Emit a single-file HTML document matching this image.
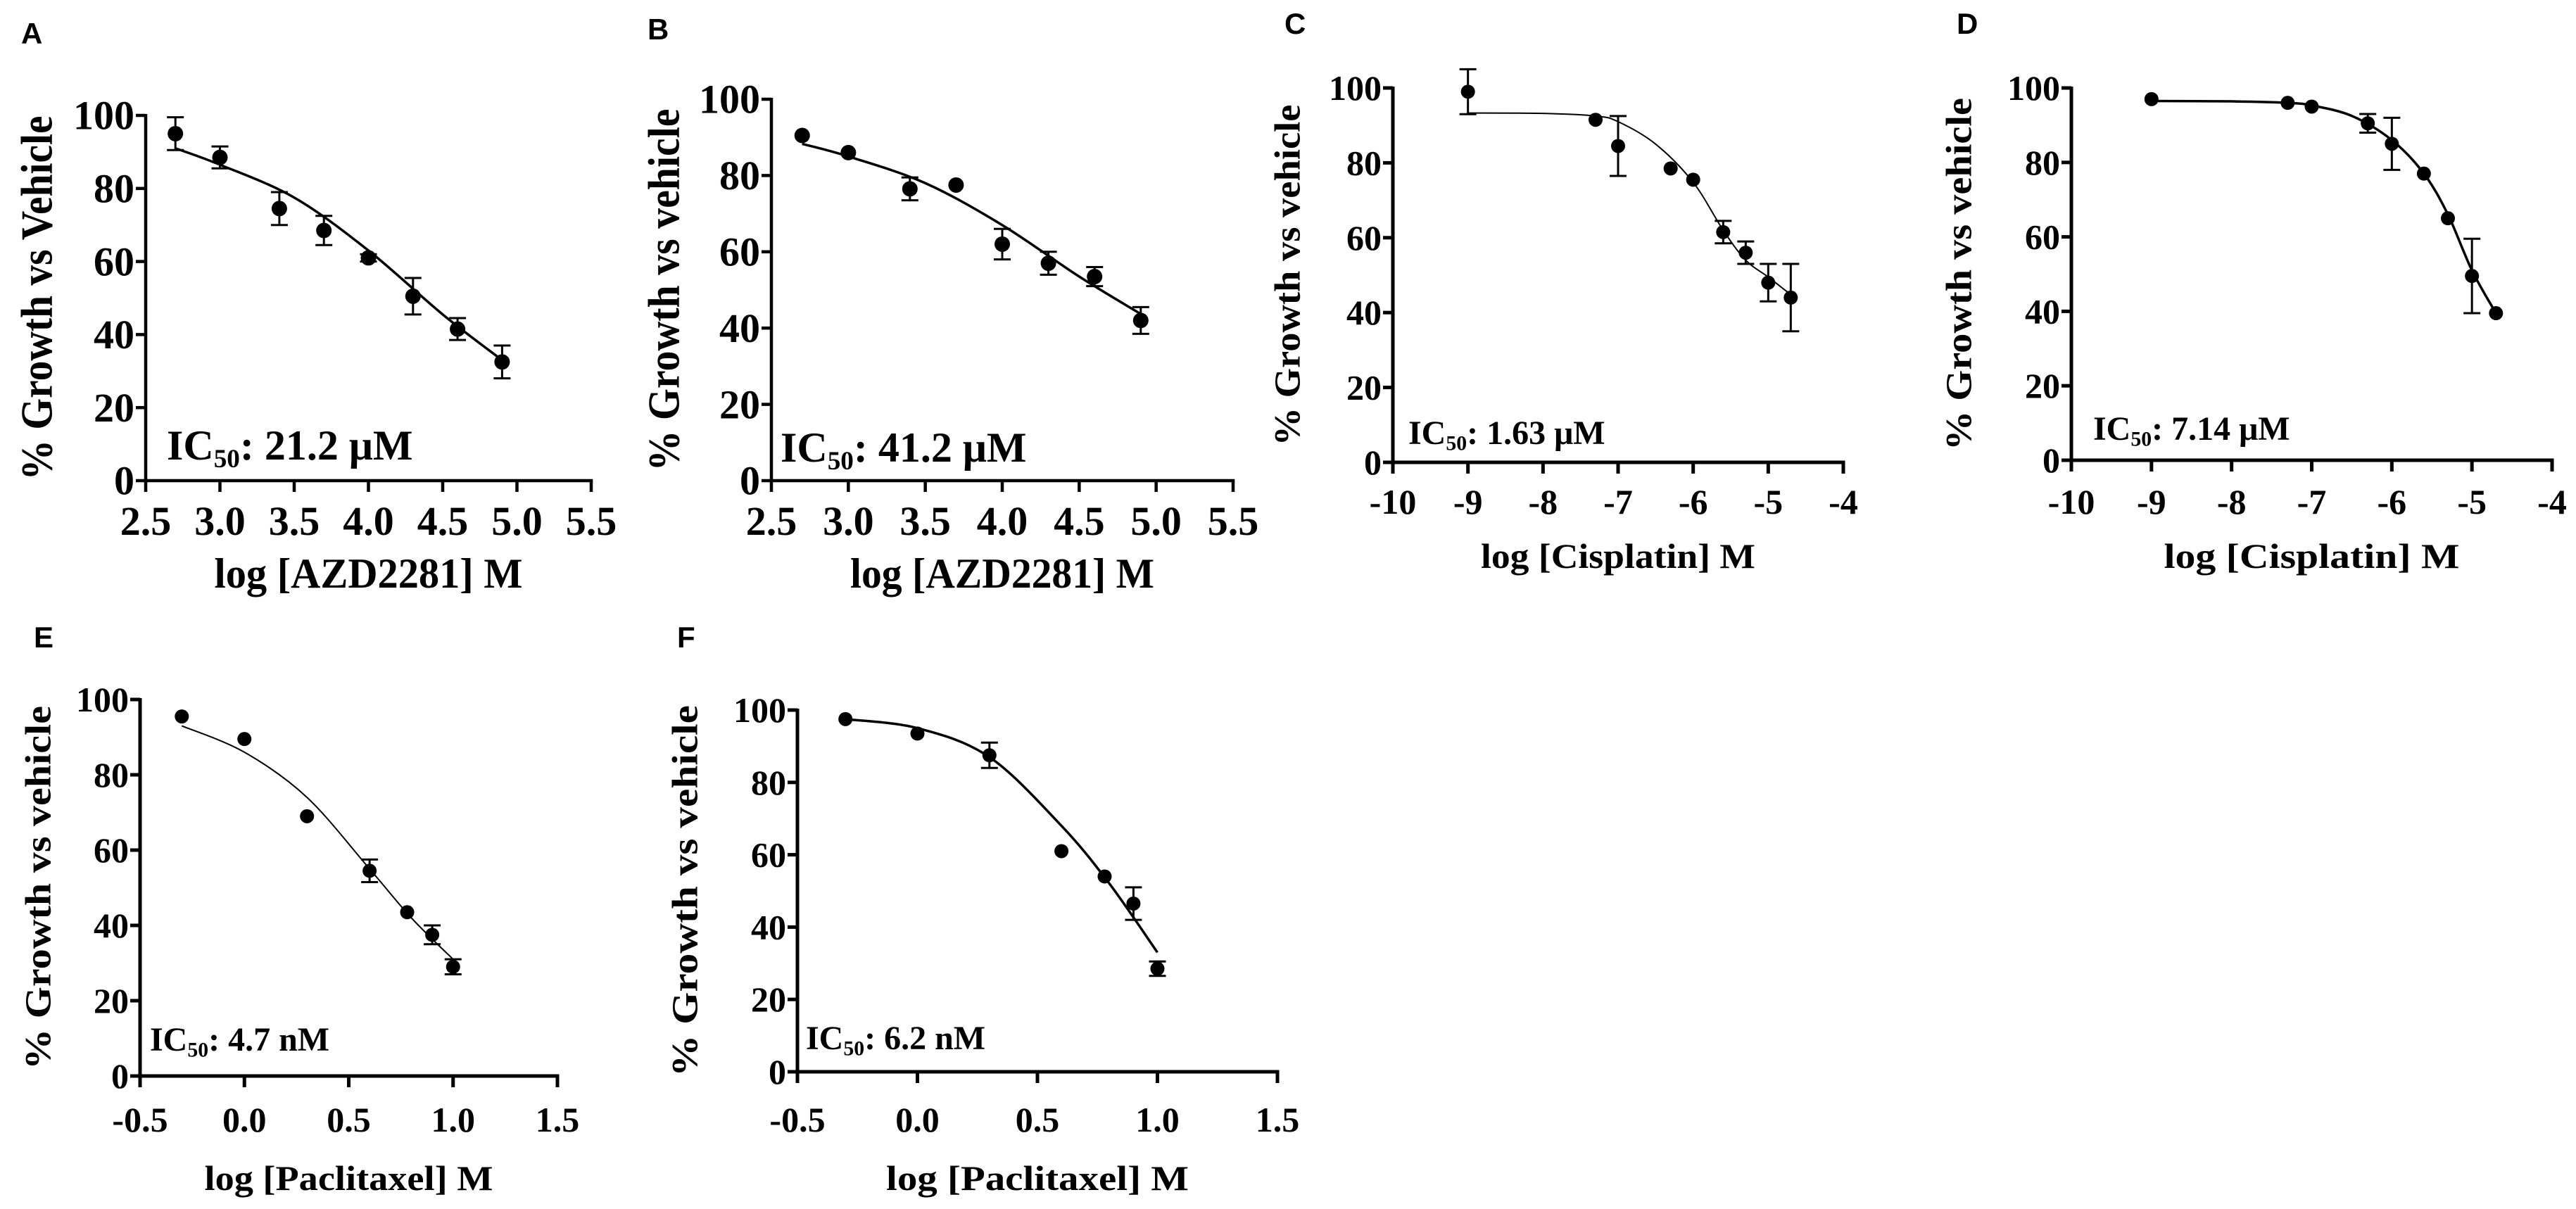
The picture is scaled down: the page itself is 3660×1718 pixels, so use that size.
<!DOCTYPE html>
<html><head><meta charset="utf-8"><style>
html,body{margin:0;padding:0;background:#fff}
svg{display:block}
text{font-family:"Liberation Serif",serif;font-weight:bold;fill:#000}
.lbl{font-family:"Liberation Sans",sans-serif}
</style></head><body>
<svg id="fig" width="3660" height="1718" viewBox="0 0 3660 1718" xmlns="http://www.w3.org/2000/svg"></svg>
<script>
// ---- data ----
const aX=[2.7,3.0,3.4,3.7,4.0,4.3,4.6,4.9];
const aY=[95,88.5,74.5,68.5,61,50.5,41.5,32.5];
const aE=[4.5,3,4.5,4,1,5,3,4.5];
const aCurveX=[2.7,3.0,3.5,4.0,4.5,4.9];
const aCurveY=[91,86.5,77.5,63,45.5,33];
const bX=[2.7,3.0,3.4,3.7,4.0,4.3,4.6,4.9];
const bY=[90.5,86,76.5,77.5,62,57,53.5,42];
const bE=[0,0,3,0,4,3,2.5,3.5];
const bCurveX=[2.7,3.0,3.5,4.0,4.5,4.9];
const bCurveY=[88.3,85,78,67,53.5,43.7];
const cX=[-9,-7.3,-7,-6.3,-6,-5.6,-5.3,-5,-4.7];
const cY=[99,91.5,84.5,78.5,75.5,61.5,56,48,44];
const cE=[6,0,8,0,0,3,3,5,9];
const cCurveX=[-9,-8,-7.3,-7,-6.5,-6,-5.6,-5.3,-5,-4.7];
const cCurveY=[93.3,93.2,92.5,91,85,74.8,62,54,49.5,44.8];
const dX=[-9,-7.3,-7,-6.3,-6,-5.6,-5.3,-5,-4.7];
const dY=[97,96,95,90.5,85,77,65,49.5,39.5];
const dE=[0,0,0,2.5,7,0,0,10,0];
const dCurveX=[-9,-8,-7.3,-7,-6.5,-6,-5.6,-5.3,-5,-4.7];
const dCurveY=[96.5,96.4,96,95.3,92.5,86,77,66,51,39.5];
const eX=[-0.3,0,0.3,0.6,0.78,0.9,1.0];
const eY=[95.5,89.5,69,54.5,43.5,37.5,29];
const eE=[0,0,0,3,0,2.5,2];
const eCurveX=[-0.3,0,0.3,0.6,0.8,1.0];
const eCurveY=[93,86,74,55,42,31];
const fX=[-0.3,0,0.3,0.6,0.78,0.9,1.0];
const fY=[97.5,93.5,87.5,61,54,46.5,28.5];
const fE=[0,0,3.5,0,0,4.5,2];
const fCurveX=[-0.3,0,0.3,0.6,0.8,1.0];
const fCurveY=[97.5,95,87,68,52,33];
const yTicks=[0,20,40,60,80,100];
const azdTicks=[2.5,3.0,3.5,4.0,4.5,5.0,5.5];
const cisTicks=[-10,-9,-8,-7,-6,-5,-4];
const pacTicks=[-0.5,0.0,0.5,1.0,1.5];

// ---- layout ----
const panels=[
 {id:'a',L:'A',lx:30,ly:62,x0:207,x1:840,y0:683,y100:164,xmin:2.5,xmax:5.5,ticks:azdTicks,dec:1,X:aX,Y:aY,E:aE,CX:aCurveX,CY:aCurveY,
  ic:'21.2 μM',icx:237,icy:653,xt:'log [AZD2281] M',xtw:438,xty:835,tly:760,yt:'% Growth vs Vehicle',ytx:52,ytw:518,fs:58,ic_fs:60,yt_fs:64,xt_fs:60,lw:4.5,cw:3.5,r:11},
 {id:'b',L:'B',lx:920,ly:56,x0:1096,x1:1752,y0:683,y100:141,xmin:2.5,xmax:5.5,ticks:azdTicks,dec:1,X:bX,Y:bY,E:bE,CX:bCurveX,CY:bCurveY,
  ic:'41.2 μM',icx:1109,icy:656,xt:'log [AZD2281] M',xtw:432,xty:835,tly:760,yt:'% Growth vs vehicle',ytx:943,ytw:515,fs:58,ic_fs:60,yt_fs:64,xt_fs:60,lw:4.5,cw:3.5,r:11},
 {id:'c',L:'C',lx:1825,ly:48,x0:1979,x1:2619,y0:657,y100:125,xmin:-10,xmax:-4,ticks:cisTicks,dec:0,X:cX,Y:cY,E:cE,CX:cCurveX,CY:cCurveY,
  ic:'1.63 μM',icx:2001,icy:631,xt:'log [Cisplatin] M',xtw:390,xty:807,tly:730,yt:'% Growth vs vehicle',ytx:1830,ytw:485,fs:50,ic_fs:48,yt_fs:52,xt_fs:50,lw:5,cw:2,r:10},
 {id:'d',L:'D',lx:2780,ly:48,x0:2943,x1:3626,y0:654,y100:125,xmin:-10,xmax:-4,ticks:cisTicks,dec:0,X:dX,Y:dY,E:dE,CX:dCurveX,CY:dCurveY,
  ic:'7.14 μM',icx:2974,icy:625,xt:'log [Cisplatin] M',xtw:420,xty:807,tly:730,yt:'% Growth vs vehicle',ytx:2784,ytw:501,fs:50,ic_fs:48,yt_fs:52,xt_fs:50,lw:5,cw:3.5,r:10},
 {id:'e',L:'E',lx:48,ly:920,x0:199,x1:792,y0:1529,y100:994,xmin:-0.5,xmax:1.5,ticks:pacTicks,dec:1,X:eX,Y:eY,E:eE,CX:eCurveX,CY:eCurveY,
  ic:'4.7 nM',icx:213,icy:1493,xt:'log [Paclitaxel] M',xtw:410,xty:1691,tly:1608,yt:'% Growth vs vehicle',ytx:55,ytw:517,fs:50,ic_fs:48,yt_fs:52,xt_fs:50,lw:5,cw:2,r:10},
 {id:'f',L:'F',lx:962,ly:920,x0:1133,x1:1815,y0:1523,y100:1009,xmin:-0.5,xmax:1.5,ticks:pacTicks,dec:1,X:fX,Y:fY,E:fE,CX:fCurveX,CY:fCurveY,
  ic:'6.2 nM',icx:1145,icy:1491,xt:'log [Paclitaxel] M',xtw:430,xty:1691,tly:1608,yt:'% Growth vs vehicle',ytx:974,ytw:528,fs:50,ic_fs:48,yt_fs:52,xt_fs:50,lw:5,cw:3.5,r:10}
];
const NS='http://www.w3.org/2000/svg';
const svg=document.getElementById('fig');
function mk(tag,attrs,parent){const e=document.createElementNS(NS,tag);for(const k in attrs)e.setAttribute(k,attrs[k]);(parent||svg).appendChild(e);return e;}
function smooth(pts){let d='M'+pts[0][0]+','+pts[0][1];for(let i=0;i<pts.length-1;i++){const p0=pts[i-1]||pts[i],p1=pts[i],p2=pts[i+1],p3=pts[i+2]||p2;
 const c1=[p1[0]+(p2[0]-p0[0])/6,p1[1]+(p2[1]-p0[1])/6],c2=[p2[0]-(p3[0]-p1[0])/6,p2[1]-(p3[1]-p1[1])/6];
 d+=' C'+c1[0]+','+c1[1]+' '+c2[0]+','+c2[1]+' '+p2[0]+','+p2[1];}return d;}
panels.forEach(p=>{
 const g=mk('g',{});
 
 
 const sx=v=>p.x0+(v-p.xmin)/(p.xmax-p.xmin)*(p.x1-p.x0);
 const sy=v=>p.y0-(v/100)*(p.y0-p.y100);
 const pl=mk('text',{x:p.lx,y:p.ly,'font-size':42,class:'lbl'},g);pl.textContent=p.L;
 
 
 const ya=mk('line',{x1:p.x0,y1:p.y100-2,x2:p.x0,y2:p.y0+p.lw/2,stroke:'#000','stroke-width':p.lw},g);
 
 
 const xa=mk('line',{x1:p.x0-p.lw/2,y1:p.y0,x2:p.x1+p.lw/2,y2:p.y0,stroke:'#000','stroke-width':p.lw},g);
 
 
 yTicks.forEach(t=>{
  mk('line',{x1:p.x0-14,y1:sy(t),x2:p.x0,y2:sy(t),stroke:'#000','stroke-width':p.lw},g);
  const tx=mk('text',{x:p.x0-16,y:sy(t)+p.fs*0.34,'font-size':p.fs,'text-anchor':'end'},g);tx.textContent=t;
  
  
 });
 p.ticks.forEach(t=>{
  mk('line',{x1:sx(t),y1:p.y0,x2:sx(t),y2:p.y0+16,stroke:'#000','stroke-width':p.lw},g);
  const tx=mk('text',{x:sx(t),y:p.tly,'font-size':p.fs,'text-anchor':'middle'},g);tx.textContent=t.toFixed(p.dec);
  
  
 });
 const xt=mk('text',{x:(p.x0+p.x1)/2,y:p.xty,'font-size':p.xt_fs,'text-anchor':'middle',textLength:p.xtw,lengthAdjust:'spacingAndGlyphs'},g);xt.textContent=p.xt;
 
 
 const cy=(p.y0+p.y100)/2;
 const yt=mk('text',{x:0,y:0,'font-size':p.yt_fs,'text-anchor':'middle','dominant-baseline':'central',textLength:p.ytw,lengthAdjust:'spacingAndGlyphs',transform:'translate('+p.ytx+','+cy+') rotate(-90)'},g);yt.textContent=p.yt;
 
 
 const ic=mk('text',{x:p.icx,y:p.icy,'font-size':p.ic_fs},g);
 
 
 ic.appendChild(document.createTextNode('IC'));
 const sub=mk('tspan',{'font-size':p.ic_fs*0.62,dy:p.ic_fs*0.18},ic);sub.textContent='50';
 const rest=mk('tspan',{dy:-p.ic_fs*0.18},ic);rest.textContent=': '+p.ic;
 const pts=p.CX.map((x,i)=>[sx(x),sy(p.CY[i])]);
 const cv=mk('path',{d:smooth(pts),fill:'none',stroke:'#000','stroke-width':p.cw},g);
 
 
 p.X.forEach((x,i)=>{
  const X=sx(x),Y=sy(p.Y[i]),e=p.E[i];
  if(e>0){
   const eb=mk('path',{d:'M'+X+','+sy(p.Y[i]+e)+'V'+sy(p.Y[i]-e)+'M'+(X-12)+','+sy(p.Y[i]+e)+'H'+(X+12)+'M'+(X-12)+','+sy(p.Y[i]-e)+'H'+(X+12),stroke:'#000','stroke-width':3,fill:'none'},g);
   
   
  }
  const c=mk('circle',{cx:X,cy:Y,r:p.r,fill:'#000'},g);
  
  
 });
});
</script>
</body></html>
